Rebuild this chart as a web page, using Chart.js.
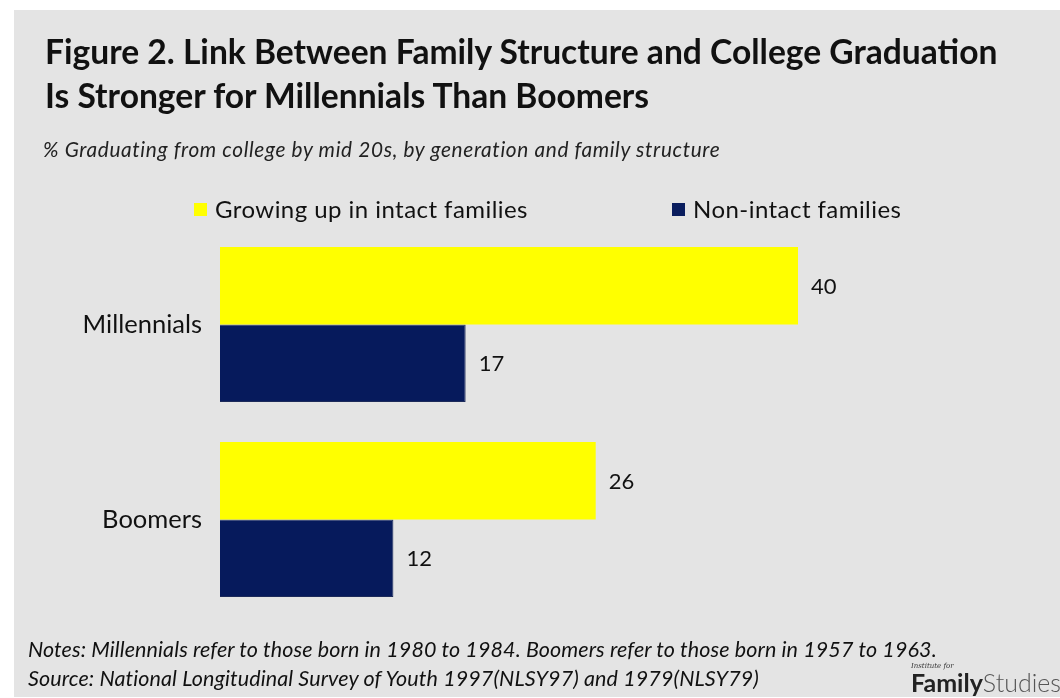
<!DOCTYPE html>
<html lang="en">
<head>
    <meta charset="UTF-8">
    <title>Family Structure and College Graduation</title>
    <script src="https://cdn.jsdelivr.net/npm/chart.js"></script>
    <style>
        body { margin: 0; background: #fff; font-family: Lato, "Open Sans", sans-serif; color: #111; }
        .panel { position: absolute; left: 14px; top: 10px; width: 1046px; height: 687px; background: #e4e4e4; }
        .title { position: absolute; left: 45px; top: 29px; font-weight: bold; font-size: 33.6px; line-height: 44px; color: #111; }
        .subtitle { position: absolute; left: 43px; top: 136px; font-style: italic; font-size: 20.8px; letter-spacing: 0.65px; color: #222; }
        .legend { position: absolute; top: 194px; font-size: 24px; letter-spacing: 0.45px; color: #111; }
        .legend span.box { display: inline-block; width: 13px; height: 13px; margin-right: 8px; vertical-align: 2px; }
        .notes { position: absolute; left: 28px; top: 635px; font-style: italic; font-size: 21.5px; letter-spacing: 0.1px; line-height: 29px; color: #111; }
        .logo { position: absolute; left: 911px; top: 662px; color: #333; }
        .logo .inst { font-family: "DejaVu Serif", serif; font-style: italic; font-size: 7px; line-height: 8px; }
        .logo .name { font-size: 25px; line-height: 25px; }
        #wrap { position: absolute; left: 0; top: 0; width: 1060px; height: 698px; }
    </style>
</head>
<body>
    <div class="panel"></div>
    <div id="wrap"><canvas id="chart"></canvas></div>

    <div class="title">Figure 2. Link Between Family Structure and College Graduation<br>Is Stronger for Millennials Than Boomers</div>
    <div class="subtitle">% Graduating from college by mid 20s, by generation and family structure</div>
    <div class="legend" style="left:194px"><span class="box" style="background:#ffff00"></span>Growing up in intact families</div>
    <div class="legend" style="left:672px"><span class="box" style="background:#0a1d5e"></span>Non-intact families</div>
    <div class="notes">Notes: Millennials refer to those born in 1980 to 1984. Boomers refer to those born in 1957 to 1963.<br>Source: National Longitudinal Survey of Youth 1997(NLSY97) and 1979(NLSY79)</div>
    <div class="logo"><div class="inst">Institute for</div><div class="name"><b style="color:#222">Family</b><span style="font-weight:300;color:#555">Studies</span></div></div>

    <script>
        // chart data
        const generations = ['Millennials', 'Boomers'];
        const intactFamilies = [40, 26];
        const nonIntactFamilies = [17, 12];

        // draws the value next to the end of each bar
        const valueLabels = {
            id: 'valueLabels',
            afterDatasetsDraw(chart) {
                const ctx = chart.ctx;
                ctx.save();
                ctx.font = '22px Lato, "Open Sans", sans-serif';
                ctx.fillStyle = '#111';
                ctx.textAlign = 'left';
                ctx.textBaseline = 'middle';
                chart.data.datasets.forEach((ds, i) => {
                    chart.getDatasetMeta(i).data.forEach((bar, j) => {
                        ctx.fillText(ds.data[j], bar.x + 13, bar.y + 1);
                    });
                });
                ctx.restore();
            }
        };

        const ctx = document.getElementById('chart').getContext('2d');
        new Chart(ctx, {
            type: 'bar',
            data: {
                labels: generations,
                datasets: [
                    {
                        label: 'Growing up in intact families',
                        data: intactFamilies,
                        backgroundColor: '#ffff00',
                        borderWidth: 0
                    },
                    {
                        label: 'Non-intact families',
                        data: nonIntactFamilies,
                        backgroundColor: '#061a5c',
                        borderColor: '#1c2a5a',
                        borderWidth: 1
                    }
                ]
            },
            options: {
                indexAxis: 'y',
                responsive: true,
                maintainAspectRatio: false,
                animation: false,
                layout: { padding: { left: 0, right: 117.5, top: 227, bottom: 81 } },
                datasets: { bar: { categoryPercentage: 0.795, barPercentage: 1 } },
                plugins: {
                    legend: { display: false },
                    tooltip: { enabled: false }
                },
                scales: {
                    x: { display: false, min: 0, max: 50 },
                    y: {
                        grid: { display: false, drawTicks: false },
                        border: { display: false },
                        afterFit(axis) { axis.width = 220; },
                        ticks: {
                            padding: 18,
                            color: '#111',
                            font: { family: 'Lato, "Open Sans", sans-serif', size: 25.5 }
                        }
                    }
                }
            },
            plugins: [valueLabels]
        });
    </script>
</body>
</html>
